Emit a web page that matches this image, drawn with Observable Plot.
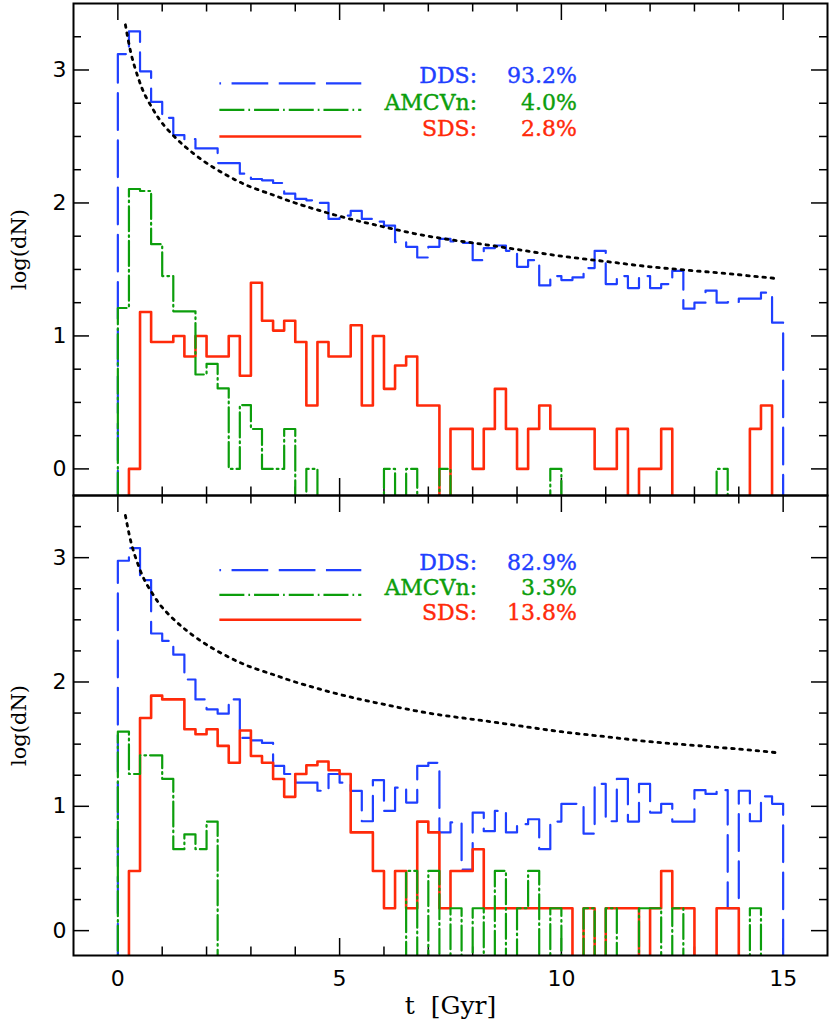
<!DOCTYPE html>
<html><head><meta charset="utf-8">
<script src="https://cdn.jsdelivr.net/npm/d3@7"></script>
<script src="https://cdn.jsdelivr.net/npm/@observablehq/plot@0.6"></script>
<style>
html,body{margin:0;padding:0;background:#fff;}
#chart svg{display:block;}
</style></head><body><div id="chart"></div>
<script>
// ---- data (log(dN) per 0.25 Gyr bin, null = empty bin) ----
const binWidth = 0.25;
const topDDS = [3.12,3.29,2.99,2.76,2.64,2.51,2.48,2.41,2.41,2.30,
  2.30,2.22,2.18,2.17,2.15,2.07,2.03,2.02,2.00,1.88,
  1.905,1.94,1.88,1.86,1.83,1.705,1.67,1.59,1.67,1.73,
  1.71,1.70,1.57,1.66,1.68,1.64,1.52,1.57,1.38,1.45,
  1.42,1.44,1.51,1.64,1.39,1.45,1.36,1.45,1.36,1.39,
  1.49,1.205,1.25,1.34,1.25,1.255,1.28,1.28,1.325,1.10];
const topAM = [1.21,2.105,2.09,1.69,1.45,1.185,1.185,0.71,0.79,0.605,
  0,0.48,0.30,0,0,0.30,null,0,null,null,
  null,null,null,null,0,null,0,null,null,0,
  null,null,null,null,null,null,null,null,null,0,
  null,null,null,null,null,null,null,null,null,null,
  null,null,null,null,0,null,null,null,null,null];
const topSDS = [null,0,1.18,0.954,0.954,1.0,0.845,1.0,0.845,0.845,
  1.0,0.70,1.40,1.114,1.04,1.114,0.954,0.477,0.954,0.845,
  0.845,1.08,0.477,1.0,0.602,0.778,0.845,0.477,0.477,null,
  0.301,0.301,0,0.301,0.602,0.301,0,0.301,0.477,0.301,
  0.301,0.301,0.301,0,0,0.301,null,0,0,0.301,
  null,null,null,null,null,null,null,0.301,0.477,null];
const botDDS = [2.975,3.076,2.82,2.39,2.33,2.22,2.02,1.86,1.78,1.745,
  1.86,1.55,1.53,1.51,1.325,1.26,1.19,1.19,1.125,1.26,
  1.19,1.124,0.88,1.21,0.963,1.15,1.03,1.325,1.35,0.79,
  0.87,0.49,0.95,0.80,0.963,0.79,0.856,0.896,0.655,0.877,
  1.02,1.02,0.78,1.18,0.88,1.22,0.877,1.18,0.95,1.02,
  0.877,0.877,1.13,1.10,1.13,0.18,1.125,0.88,1.08,1.02];
const botAM = [1.60,1.26,1.41,1.41,1.22,0.655,0.775,0.655,0.877,null,
  null,null,null,null,null,null,null,null,null,null,
  null,null,null,null,null,null,0.48,null,0.48,null,
  0.18,null,0.18,null,0.48,null,0.18,0.48,null,0.18,
  null,null,0.18,null,0.18,null,null,0.18,0.18,null,
  0.18,null,null,null,null,null,null,0.18,null,null];
const botSDS = [null,0.48,1.71,1.89,1.86,1.86,1.62,1.58,1.62,1.486,
  1.35,1.61,1.405,1.35,1.22,1.076,1.26,1.33,1.36,1.29,
  1.26,0.79,0.79,0.48,0.18,0.48,0.18,0.877,0.79,0.18,
  0.48,0.48,0.655,0.18,0.18,0.18,0.18,0.18,0.18,0.18,
  0.18,null,0.18,null,0.18,0.18,0.18,null,0.18,0.48,
  0.18,0.18,null,null,0.18,0.18,null,null,null,null];
// dotted reference curve
const dotT = [0.17,0.3,0.45,0.6,0.8,1.0,1.3,1.6,2.0,2.5,3,3.5,4,5,6,7,8,9,10,11,12,13,14,14.9];
const dotV = [3.34,3.12,2.95,2.82,2.70,2.60,2.49,2.40,2.30,2.20,2.12,2.06,2.00,1.90,1.82,1.75,1.70,1.65,1.60,1.56,1.52,1.49,1.46,1.43];
const seriesNames = ["DDS:","AMCVn:","SDS:"];
const topPct = ["93.2%","4.0%","2.8%"];
const botPct = ["82.9%","3.3%","13.8%"];
const xTickLabels = [0,5,10,15];
const yTickLabels = [0,1,2,3];

// ---- styles / layout ----
const colors = ["#1f3fff","#0c9e0c","#ff2a0a"];
const dashes = ["36.7,10.5","25,4,1.7,4",null];
const widths = [2.2,2.2,2.6];
const W = 830, ML = 73, MR = 3;
const FLOOR = -1;
const SERIF = "DejaVu Serif", SANS = "DejaVu Sans";
const legendY = [2.9,2.7,2.5];
const legend = {x1: 2.3, x2: 5.5, nameX: 8.1, pctX: 10.35};
const xMinor = d3.range(0,16).filter(t => t % 5 !== 0);
const xMajor = [0,5,10,15];
const yMinor = d3.range(0,3.5,0.25).filter(v => v % 1 !== 0);
const yMajor = [0,1,2,3];
const dots = dotT.map((t,i) => ({t, v: dotV[i]}));

function steps(vals) {
  const pts = [{x: 0, y: FLOOR}];
  vals.forEach((v,i) => pts.push({x: i*binWidth, y: v == null ? FLOOR : v}));
  pts.push({x: vals.length*binWidth, y: FLOOR});
  return pts;
}

function panel({series, pct, height, mt, mb, xAxis}) {
  const H = height - mt - mb, IW = W - ML - MR;
  const marks = [];
  const tk = {stroke: "#000", strokeWidth: 1.5};
  // inward ticks on all four sides
  marks.push(Plot.ruleX(xMinor, {...tk, insetTop: H - 8.5}));
  marks.push(Plot.ruleX(xMajor, {...tk, insetTop: H - 17}));
  marks.push(Plot.ruleX(xMinor, {...tk, insetBottom: H - 8.5}));
  marks.push(Plot.ruleX(xMajor, {...tk, insetBottom: H - 17}));
  marks.push(Plot.ruleY(yMinor, {...tk, insetRight: IW - 8}));
  marks.push(Plot.ruleY(yMajor, {...tk, insetRight: IW - 16}));
  marks.push(Plot.ruleY(yMinor, {...tk, insetLeft: IW - 8}));
  marks.push(Plot.ruleY(yMajor, {...tk, insetLeft: IW - 16}));
  // histograms: DDS, SDS, AMCVn
  [0,2,1].forEach(k => {
    marks.push(Plot.line(steps(series[k]), {x: "x", y: "y", curve: "step-after",
      stroke: colors[k], strokeWidth: widths[k], strokeDasharray: dashes[k], clip: true}));
  });
  marks.push(Plot.line(dots, {x: "t", y: "v", curve: "natural", stroke: "#000",
    strokeWidth: 2.8, strokeDasharray: "2.6,5.6"}));
  // legend
  [0,1,2].forEach(k => {
    marks.push(Plot.ruleY([legendY[k]], {x1: legend.x1, x2: legend.x2, stroke: colors[k],
      strokeWidth: widths[k], strokeDasharray: dashes[k], strokeDashoffset: k === 0 ? 35 : 0}));
    const txt = {y: legendY[k], text: d => d, textAnchor: "end", lineAnchor: "bottom",
      fill: colors[k], stroke: colors[k], strokeWidth: 0.4, fontSize: 22, fontFamily: SERIF};
    marks.push(Plot.text([seriesNames[k]], {...txt, x: legend.nameX}));
    marks.push(Plot.text([pct[k]], {...txt, x: legend.pctX}));
  });
  marks.push(Plot.axisY({ticks: yTickLabels, tickSize: 0, tickPadding: 7, fontSize: 22,
    fontFamily: SANS, label: null, tickFormat: d => String(d)}));
  marks.push(Plot.text(["log(dN)"], {frameAnchor: "left", dx: -54, rotate: -90,
    fontSize: 21, fontFamily: SERIF, lineAnchor: "middle", textAnchor: "middle"}));
  if (xAxis) {
    marks.push(Plot.axisX({ticks: xTickLabels, tickSize: 0, tickPadding: 15, fontSize: 22,
      fontFamily: SANS, label: null, tickFormat: d => String(d)}));
    marks.push(Plot.text(["t [Gyr]"], {frameAnchor: "bottom", dy: 50, fontSize: 25,
      fontFamily: SERIF, lineAnchor: "middle"}));
  }
  marks.push(Plot.frame({stroke: "#000", strokeWidth: 2}));
  return Plot.plot({
    width: W, height, marginLeft: ML, marginRight: MR, marginTop: mt, marginBottom: mb,
    x: xAxis ? {domain: [-1,16]} : {domain: [-1,16], axis: null},
    y: {domain: [-0.2,3.5]},
    style: {fontFamily: SANS, fontSize: "22px", background: "#fff", overflow: "visible"},
    marks
  });
}

const chart = document.getElementById("chart");
chart.append(panel({series: [topDDS, topAM, topSDS], pct: topPct, height: 495, mt: 3, mb: 0, xAxis: false}));
chart.append(panel({series: [botDDS, botAM, botSDS], pct: botPct, height: 532, mt: 0, mb: 72, xAxis: true}));
chart.querySelectorAll("text").forEach(t => {
  if (t.textContent === "t [Gyr]") t.style.wordSpacing = "8px";
});
</script></body></html>
